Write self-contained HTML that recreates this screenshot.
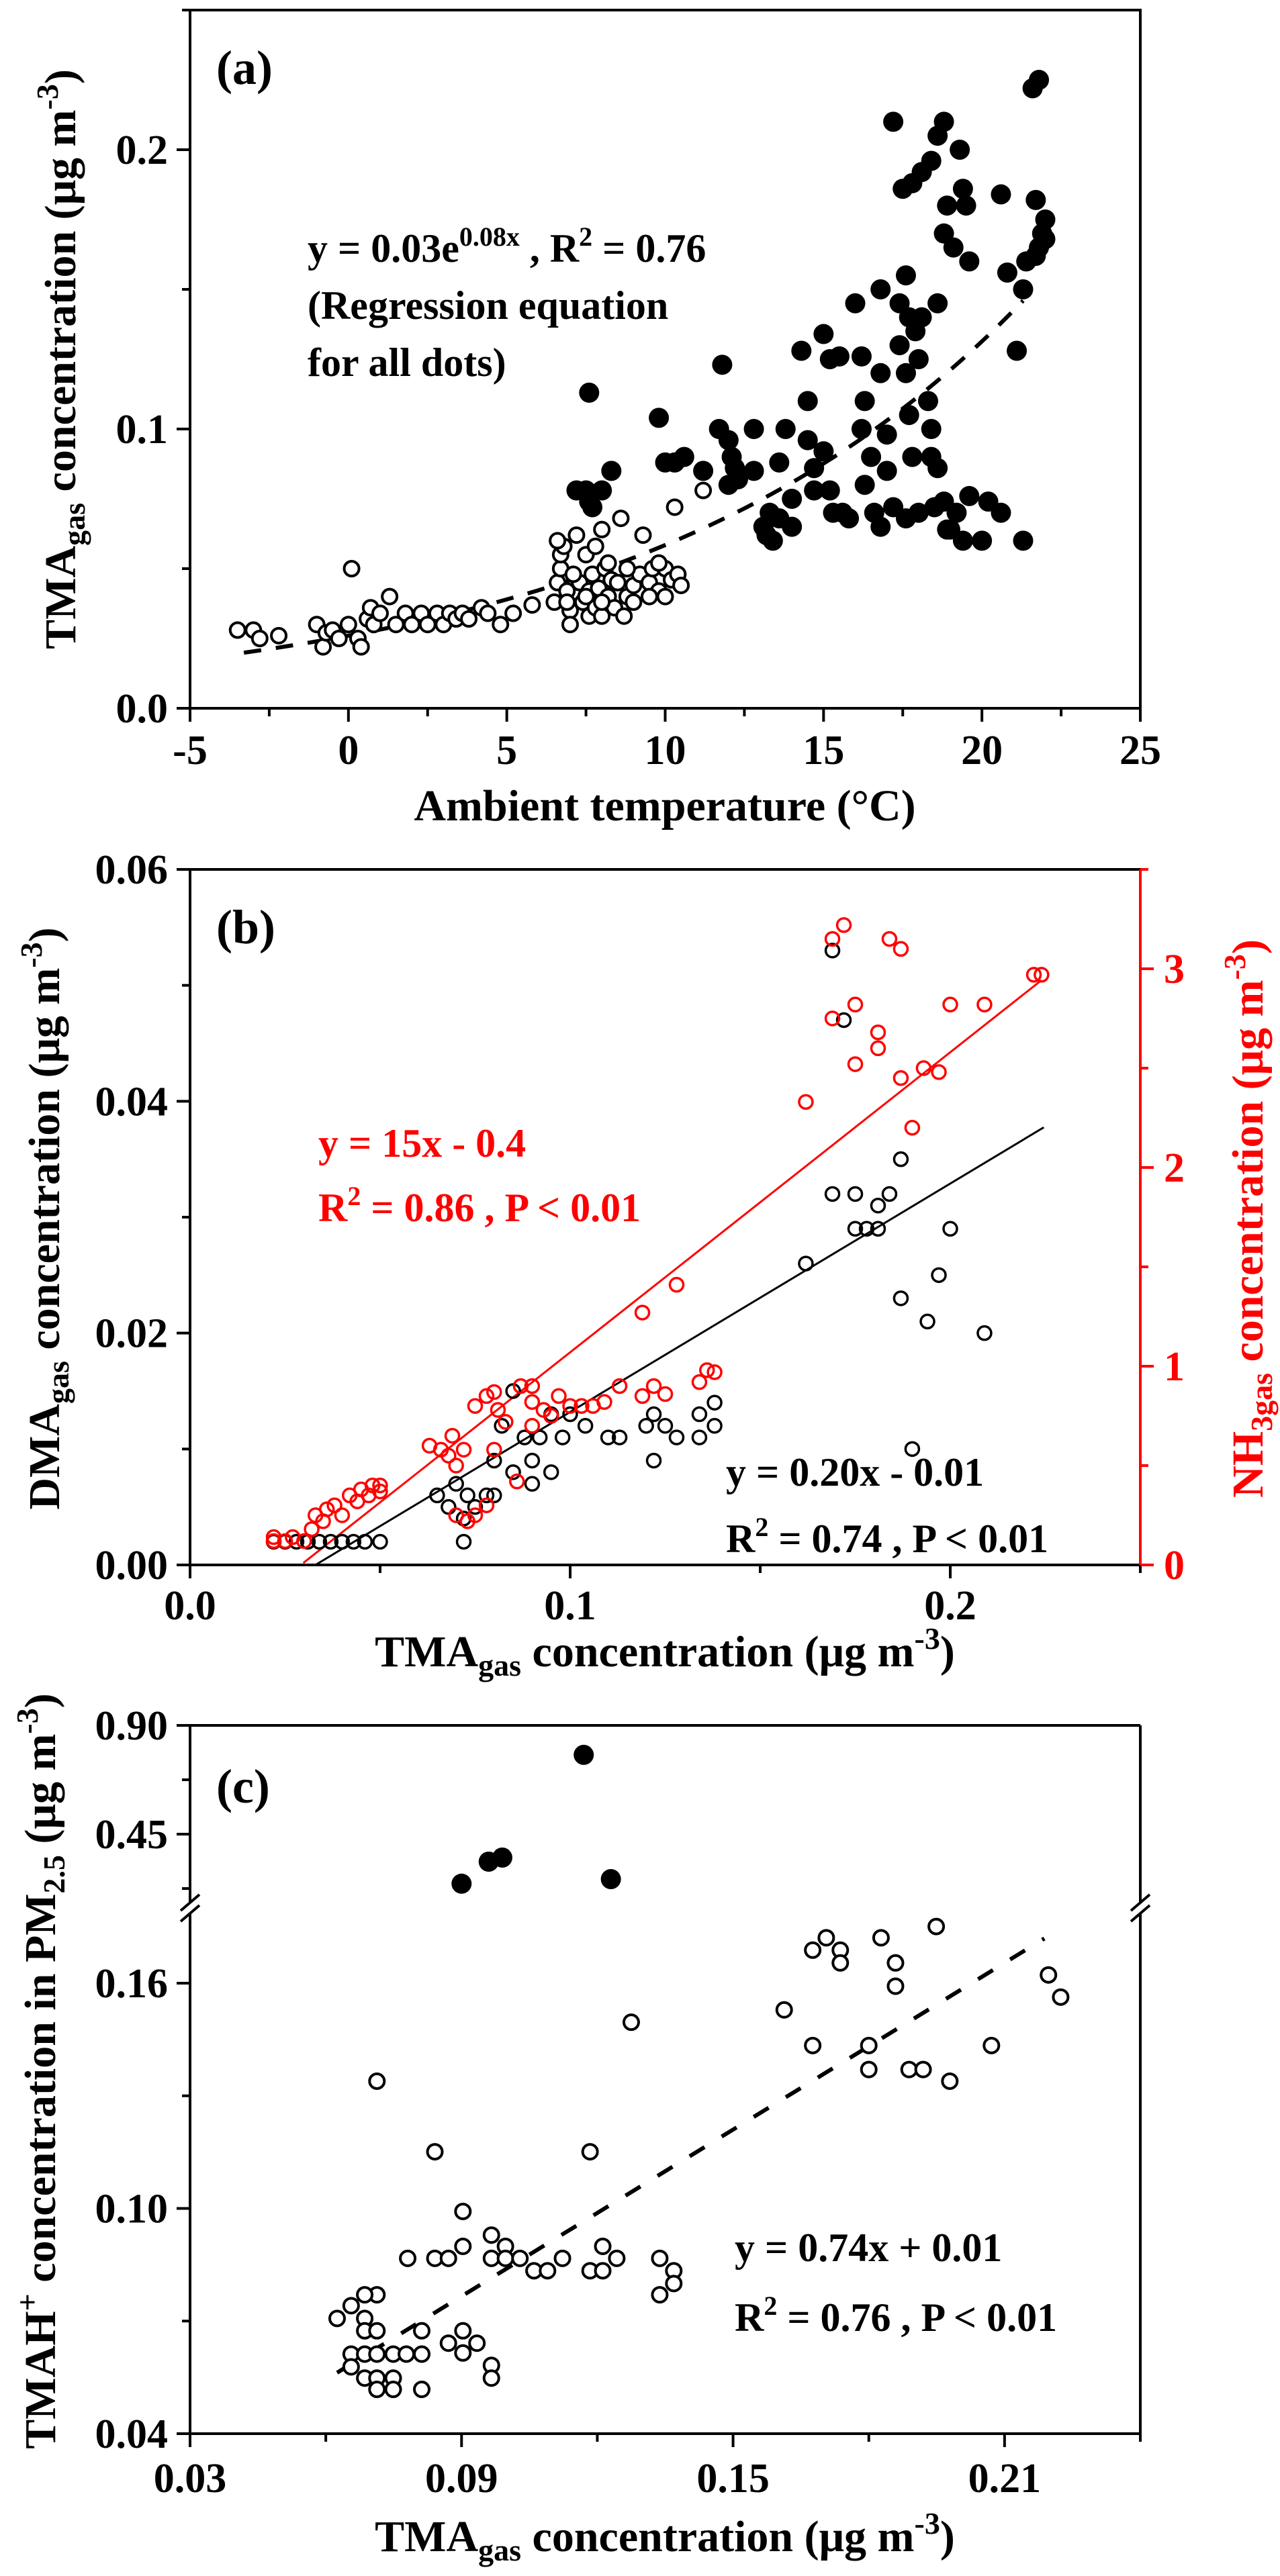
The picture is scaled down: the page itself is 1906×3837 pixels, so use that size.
<!DOCTYPE html>
<html><head><meta charset="utf-8"><style>
html,body{margin:0;padding:0;background:#fff}
svg{display:block;font-family:"Liberation Serif",serif;font-weight:bold}
</style></head><body>
<svg id="fig" width="1906" height="3837" viewBox="0 0 1906 3837" xmlns="http://www.w3.org/2000/svg">
<g id="pa"></g>
<g id="pb"></g>
<g id="pc"></g>
</svg>
<script>
// ---------- Panel (a) data ----------
const aOpenT=[-3.5,-3.0,-2.8,-2.2,-1,-0.8,-0.7,-0.5,-0.3,0,0.1,0.3,0.4,0.6,0.7,0.8,1,1.3,1.5,1.8,2,2.3,2.5,2.8,3,3.2,3.4,3.6,3.8,4.2,4.4,4.8,5.2,5.8,6.5,6.6,6.7,6.7,6.8,6.9,7,7,7.2,7.3,7.4,7.5,7.6,7.6,7.7,7.8,7.8,7.9,8,8,8.1,8.2,8.3,8.4,8.5,8.6,8.7,8.8,9,9.2,9.3,9.5,9.6,9.8,10,10,10.2,10.4,10.5,10.3,11.2,6.6,7.5,8.2,8.8,9.8,7.1,6.9,8.0,9.0,9.5];
const aOpenY=[0.028,0.028,0.025,0.026,0.030,0.022,0.027,0.028,0.025,0.030,0.050,0.025,0.022,0.032,0.036,0.030,0.034,0.040,0.030,0.034,0.030,0.034,0.030,0.034,0.030,0.034,0.032,0.034,0.032,0.036,0.034,0.030,0.034,0.037,0.038,0.045,0.050,0.055,0.058,0.042,0.035,0.030,0.062,0.045,0.038,0.055,0.042,0.033,0.048,0.058,0.036,0.043,0.064,0.033,0.050,0.040,0.046,0.036,0.045,0.068,0.033,0.040,0.044,0.048,0.062,0.045,0.050,0.042,0.050,0.040,0.046,0.048,0.044,0.072,0.078,0.060,0.040,0.052,0.050,0.052,0.048,0.038,0.038,0.038,0.040];
const aFillT=[7.2,7.5,7.6,8.0,8.3,7.7,7.6,9.8,10,10.3,10.6,11.2,11.8,11.7,12,12.1,12.2,12,12.8,12.8,13.1,13.3,13.4,13.8,13.6,14,13.6,14.3,14.5,14.5,14.7,14.7,15,15.2,15.5,15,15.2,15.3,15.6,16,16.2,16.3,16.2,16.5,16.3,16.6,16.8,16.8,17,17,17.2,17.2,17.4,17.4,17.6,17.7,17.6,17.7,17.8,17.9,18,18.1,18.3,18.4,18.4,18.6,18.6,18.0,18.5,17.5,17.8,18.1,18.4,18.6,18.8,18.8,18.9,19.1,19.3,19.4,19.5,19.6,18.8,19,19.2,19.4,19.6,20,20.2,20.6,20.6,20.8,21.1,21.3,21.4,21.3,21.6,21.8,21.7,21.9,22,21.8,21.7,22,14,15.8,16.8,17.6,18.9,12.3,13.2];
const aFillY=[0.078,0.078,0.074,0.078,0.085,0.072,0.113,0.104,0.088,0.088,0.090,0.085,0.123,0.100,0.096,0.090,0.086,0.080,0.100,0.085,0.065,0.070,0.060,0.100,0.088,0.075,0.068,0.128,0.110,0.096,0.086,0.078,0.134,0.125,0.126,0.092,0.078,0.070,0.070,0.145,0.126,0.110,0.100,0.090,0.080,0.070,0.150,0.120,0.098,0.085,0.072,0.210,0.145,0.130,0.155,0.140,0.120,0.105,0.090,0.135,0.125,0.140,0.110,0.100,0.090,0.145,0.086,0.070,0.072,0.186,0.188,0.192,0.196,0.205,0.210,0.170,0.180,0.165,0.200,0.186,0.180,0.160,0.074,0.064,0.070,0.060,0.076,0.060,0.074,0.070,0.184,0.156,0.128,0.150,0.160,0.060,0.222,0.225,0.182,0.170,0.175,0.165,0.162,0.168,0.065,0.068,0.065,0.068,0.064,0.082,0.062];
const aXTicks=[-5,0,5,10,15,20,25];
const aYTicks=[0,0.1,0.2];
const aYTickLabels=["0.0","0.1","0.2"];
const aFit=[0.026,0.081]; // y = a*exp(b*x)

// ---------- Panel (b) data ----------
const bBlackX=[0.022,0.025,0.028,0.031,0.034,0.037,0.040,0.043,0.046,0.050,0.072,0.065,0.068,0.07,0.072,0.073,0.075,0.078,0.08,0.08,0.082,0.085,0.085,0.088,0.09,0.09,0.092,0.095,0.095,0.098,0.1,0.104,0.11,0.113,0.12,0.122,0.122,0.125,0.128,0.134,0.134,0.138,0.138,0.162,0.169,0.169,0.172,0.175,0.175,0.178,0.181,0.181,0.184,0.187,0.187,0.19,0.194,0.197,0.2,0.209];
const bDMA=[0.002,0.002,0.002,0.002,0.002,0.002,0.002,0.002,0.002,0.002,0.002,0.006,0.005,0.007,0.004,0.006,0.005,0.006,0.006,0.009,0.012,0.015,0.008,0.011,0.009,0.007,0.011,0.008,0.013,0.011,0.013,0.012,0.011,0.011,0.012,0.013,0.009,0.012,0.011,0.011,0.013,0.012,0.014,0.026,0.053,0.032,0.047,0.032,0.029,0.029,0.031,0.029,0.032,0.035,0.023,0.010,0.021,0.025,0.029,0.020];
const bRedX=[0.022,0.022,0.025,0.027,0.03,0.032,0.033,0.035,0.036,0.038,0.04,0.042,0.044,0.045,0.047,0.048,0.05,0.05,0.063,0.066,0.068,0.069,0.07,0.072,0.07,0.073,0.075,0.075,0.078,0.078,0.08,0.081,0.083,0.08,0.086,0.087,0.09,0.09,0.09,0.093,0.095,0.097,0.1,0.103,0.106,0.109,0.113,0.119,0.122,0.125,0.119,0.128,0.134,0.136,0.138,0.162,0.169,0.172,0.169,0.175,0.175,0.181,0.181,0.184,0.187,0.187,0.19,0.193,0.197,0.2,0.209,0.222,0.224];
const bNH3=[0.14,0.12,0.12,0.14,0.12,0.18,0.25,0.22,0.28,0.3,0.25,0.35,0.32,0.38,0.35,0.4,0.37,0.4,0.6,0.58,0.55,0.65,0.5,0.58,0.25,0.22,0.25,0.8,0.85,0.3,0.87,0.78,0.72,0.58,0.42,0.9,0.9,0.82,0.7,0.78,0.75,0.85,0.8,0.8,0.8,0.82,0.9,0.85,0.9,0.86,1.27,1.41,0.92,0.98,0.97,2.33,3.15,3.22,2.75,2.82,2.52,2.68,2.6,3.15,3.1,2.45,2.2,2.5,2.48,2.82,2.82,2.97,2.97];
const bXTicks=[0,0.1,0.2];
const bXTickLabels=["0.0","0.1","0.2"];
const bYTicks=[0,0.02,0.04,0.06];
const bYTickLabels=["0.00","0.02","0.04","0.06"];
const bY2Ticks=[0,1,2,3];
const bBlackFit=[0.197,-0.0065];
const bRedFit=[15.1,-0.44];

// ---------- Panel (c) data ----------
const cOpenX=[0.0625,0.0656,0.0686,0.0686,0.0713,0.0686,0.0713,0.0656,0.0686,0.0713,0.0749,0.0778,0.0812,0.0656,0.0686,0.0713,0.0749,0.0713,0.0749,0.0812,0.0812,0.0781,0.0841,0.0871,0.0871,0.0903,0.0903,0.0934,0.0903,0.0903,0.0966,0.0997,0.0966,0.0997,0.1029,0.1060,0.1090,0.1123,0.1184,0.1212,0.1212,0.1243,0.1338,0.1369,0.1369,0.1338,0.0966,0.0966,0.0713,0.0841,0.1184,0.1275,0.1613,0.1676,0.1800,0.1800,0.1889,0.1920,0.1979,0.2071,0.1676,0.1706,0.1737,0.1737,0.1827,0.1859,0.1859,0.1949,0.2197,0.2224];
const cOpenY=[0.0707,0.0741,0.0707,0.0674,0.0770,0.0770,0.0674,0.0612,0.0612,0.0612,0.0612,0.0612,0.0612,0.0578,0.0548,0.0548,0.0548,0.0518,0.0518,0.0518,0.0674,0.0867,0.0867,0.0867,0.0641,0.0674,0.0615,0.0641,0.0899,0.0992,0.0929,0.0899,0.0867,0.0867,0.0867,0.0834,0.0834,0.0867,0.0834,0.0834,0.0899,0.0867,0.0867,0.0834,0.0800,0.0770,0.0582,0.0548,0.1339,0.1151,0.1151,0.1496,0.1529,0.1434,0.1434,0.1370,0.1370,0.1370,0.1339,0.1434,0.1688,0.1721,0.1688,0.1654,0.1721,0.1654,0.1592,0.1751,0.1622,0.1563];
const cFillX=[0.090,0.096,0.099,0.117,0.123];
const cFillY=[0.245,0.336,0.353,0.778,0.264];
const cXTicks=[0.03,0.09,0.15,0.21];
const cXTickLabels=["0.03","0.09","0.15","0.21"];
const cYTicksLow=[0.04,0.10,0.16];
const cYTickLabelsLow=["0.04","0.10","0.16"];
const cYTicksHigh=[0.45,0.90];
const cFit=[0.74,0.01];

const NS="http://www.w3.org/2000/svg";
function mk(parent,tag,attrs,text){const e=document.createElementNS(NS,tag);for(const k in attrs)e.setAttribute(k,attrs[k]);if(text!==undefined)e.textContent=text;parent.appendChild(e);return e;}
function lin(d0,d1,p0,p1){return v=>p0+(v-d0)/(d1-d0)*(p1-p0);}
const L=283,R=1698;

// ===== Panel A =====
(function(){
const g=document.getElementById('pa');
const T=15,B=1055;
const x=lin(-5,25,L,R), y=lin(0,0.25,B,T);
// fit dashed
let pts=[];for(let t=-3.3;t<=21.4;t+=0.2)pts.push(x(t)+','+y(aFit[0]*Math.exp(aFit[1]*t)));
let fl=mk(g,'polyline',{points:pts.join(' '),fill:'none',stroke:'#000','stroke-width':6,'stroke-dasharray':'26,22'});

for(let i=0;i<aOpenT.length;i++){const c=mk(g,'circle',{cx:x(aOpenT[i]),cy:y(aOpenY[i]),r:11,fill:'#fff',stroke:'#000','stroke-width':4});
}
for(let i=0;i<aFillT.length;i++){const c=mk(g,'circle',{cx:x(aFillT[i]),cy:y(aFillY[i]),r:15,fill:'#000'});
}
const fr=mk(g,'rect',{x:L,y:T,width:R-L,height:B-T,fill:'none',stroke:'#000','stroke-width':4});

aXTicks.forEach(t=>{mk(g,'line',{x1:x(t),x2:x(t),y1:B,y2:B+20,stroke:'#000','stroke-width':4});
const l=mk(g,'text',{x:x(t),y:1138,'font-size':62,'text-anchor':'middle'},String(t));});
for(let t=-2.5;t<25;t+=5)mk(g,'line',{x1:x(t),x2:x(t),y1:B,y2:B+12,stroke:'#000','stroke-width':4});
aYTicks.forEach((t,i)=>{mk(g,'line',{x1:L,x2:L-20,y1:y(t),y2:y(t),stroke:'#000','stroke-width':4});
const l=mk(g,'text',{x:250,y:y(t)+21,'font-size':62,'text-anchor':'end'},aYTickLabels[i]);});
[0.05,0.15,0.25].forEach(t=>mk(g,'line',{x1:L,x2:L-12,y1:y(t),y2:y(t),stroke:'#000','stroke-width':4}));
})();

// ===== Panel B =====
(function(){
const g=document.getElementById('pb');
const T=1295,B=2331;
const x=lin(0,0.25,L,R), y=lin(0,0.06,B,T), y2=lin(0,3.5,B,T);
const l1=mk(g,'line',{x1:x(0.033),y1:y(bBlackFit[0]*0.033+bBlackFit[1]),x2:x(0.2246),y2:y(bBlackFit[0]*0.2246+bBlackFit[1]),stroke:'#000','stroke-width':3});

const l2=mk(g,'line',{x1:x(0.0298),y1:y2(bRedFit[0]*0.0298+bRedFit[1]),x2:x(0.224),y2:y2(bRedFit[0]*0.224+bRedFit[1]),stroke:'#f00','stroke-width':3});

for(let i=0;i<bBlackX.length;i++){const c=mk(g,'circle',{cx:x(bBlackX[i]),cy:y(bDMA[i]),r:10,fill:'none',stroke:'#000','stroke-width':3.5});
}
for(let i=0;i<bRedX.length;i++){const c=mk(g,'circle',{cx:x(bRedX[i]),cy:y2(bNH3[i]),r:10,fill:'none',stroke:'#f00','stroke-width':3.5});
}
mk(g,'line',{x1:L,y1:T,x2:R,y2:T,stroke:'#000','stroke-width':4});
mk(g,'line',{x1:L,y1:T,x2:L,y2:B,stroke:'#000','stroke-width':4});
mk(g,'line',{x1:L,y1:B,x2:R,y2:B,stroke:'#000','stroke-width':4});
const ra=mk(g,'line',{x1:R,y1:T,x2:R,y2:B,stroke:'#f00','stroke-width':4});

bXTicks.forEach((t,i)=>{mk(g,'line',{x1:x(t),x2:x(t),y1:B,y2:B+20,stroke:'#000','stroke-width':4});
const l=mk(g,'text',{x:x(t),y:2412,'font-size':62,'text-anchor':'middle'},bXTickLabels[i]);});
[0.05,0.15,0.25].forEach(t=>mk(g,'line',{x1:x(t),x2:x(t),y1:B,y2:B+12,stroke:'#000','stroke-width':4}));
bYTicks.forEach((t,i)=>{mk(g,'line',{x1:L,x2:L-20,y1:y(t),y2:y(t),stroke:'#000','stroke-width':4});
const l=mk(g,'text',{x:250,y:y(t)+21,'font-size':62,'text-anchor':'end'},bYTickLabels[i]);});
[0.01,0.03,0.05].forEach(t=>mk(g,'line',{x1:L,x2:L-12,y1:y(t),y2:y(t),stroke:'#000','stroke-width':4}));
bY2Ticks.forEach(t=>{mk(g,'line',{x1:R,x2:R+20,y1:y2(t),y2:y2(t),stroke:'#f00','stroke-width':4});
const l=mk(g,'text',{x:1733,y:y2(t)+21,'font-size':62,fill:'#f00'},String(t));});
[0.5,1.5,2.5,3.5].forEach(t=>mk(g,'line',{x1:R,x2:R+12,y1:y2(t),y2:y2(t),stroke:'#f00','stroke-width':4}));
})();

// ===== Panel C =====
(function(){
const g=document.getElementById('pc');
const T=2570,B=3625,BR=2842;
const x=lin(0.03,0.24,L,R), yl=lin(0.04,0.16,B,2954), yh=lin(0.45,0.90,2732,2570);
const fl=mk(g,'line',{x1:x(0.0625),y1:yl(cFit[0]*0.0625+cFit[1]),x2:x(0.2188),y2:yl(cFit[0]*0.2188+cFit[1]),stroke:'#000','stroke-width':6,'stroke-dasharray':'26,30'});

for(let i=0;i<cOpenX.length;i++){const c=mk(g,'circle',{cx:x(cOpenX[i]),cy:yl(cOpenY[i]),r:11,fill:'#fff',stroke:'#000','stroke-width':4});
}
for(let i=0;i<cFillX.length;i++){const c=mk(g,'circle',{cx:x(cFillX[i]),cy:yh(cFillY[i]),r:15,fill:'#000'});
}
mk(g,'line',{x1:L,y1:T,x2:R,y2:T,stroke:'#000','stroke-width':4});
mk(g,'line',{x1:L,y1:B,x2:R,y2:B,stroke:'#000','stroke-width':4});
[L,R].forEach(ax=>{
mk(g,'line',{x1:ax,y1:T,x2:ax,y2:BR-8,stroke:'#000','stroke-width':4});
mk(g,'line',{x1:ax,y1:BR+8,x2:ax,y2:B,stroke:'#000','stroke-width':4});
mk(g,'line',{x1:ax-14,y1:BR+4,x2:ax+14,y2:BR-20,stroke:'#000','stroke-width':4});
mk(g,'line',{x1:ax-14,y1:BR+20,x2:ax+14,y2:BR-4,stroke:'#000','stroke-width':4});});
cXTicks.forEach((t,i)=>{mk(g,'line',{x1:x(t),x2:x(t),y1:B,y2:B+20,stroke:'#000','stroke-width':4});
const l=mk(g,'text',{x:x(t),y:3712,'font-size':62,'text-anchor':'middle'},cXTickLabels[i]);});
[0.06,0.12,0.18,0.24].forEach(t=>mk(g,'line',{x1:x(t),x2:x(t),y1:B,y2:B+12,stroke:'#000','stroke-width':4}));
cYTicksLow.forEach((t,i)=>{mk(g,'line',{x1:L,x2:L-20,y1:yl(t),y2:yl(t),stroke:'#000','stroke-width':4});
const l=mk(g,'text',{x:250,y:yl(t)+21,'font-size':62,'text-anchor':'end'},cYTickLabelsLow[i]);});
[0.07,0.13].forEach(t=>mk(g,'line',{x1:L,x2:L-12,y1:yl(t),y2:yl(t),stroke:'#000','stroke-width':4}));
cYTicksHigh.forEach(t=>{mk(g,'line',{x1:L,x2:L-20,y1:yh(t),y2:yh(t),stroke:'#000','stroke-width':4});
const l=mk(g,'text',{x:250,y:yh(t)+21,'font-size':62,'text-anchor':'end'},t.toFixed(2));});
[0.225,0.675].forEach(t=>mk(g,'line',{x1:L,x2:L-12,y1:yh(t),y2:yh(t),stroke:'#000','stroke-width':4}));
})();
</script>
<svg width="1906" height="3837" viewBox="0 0 1906 3837" style="position:absolute;left:0;top:0;font-family:'Liberation Serif',serif;font-weight:bold">
<!-- Panel a texts -->
<text x="322" y="125" font-size="72">(a)</text>
<text x="458" y="390" font-size="60">y = 0.03e<tspan dy="-24" font-size="40">0.08x</tspan><tspan dy="24"> , R</tspan><tspan dy="-24" font-size="40">2</tspan><tspan dy="24"> = 0.76</tspan></text>
<text x="458" y="475" font-size="60">(Regression equation</text>
<text x="458" y="560" font-size="60">for all dots)</text>
<text x="990" y="1222" font-size="66" text-anchor="middle">Ambient temperature (°C)</text>
<text transform="translate(112,535) rotate(-90)" font-size="66" text-anchor="middle">TMA<tspan dy="14" font-size="46">gas</tspan><tspan dy="-14"> concentration (μg m</tspan><tspan dy="-26" font-size="46">-3</tspan><tspan dy="26">)</tspan></text>
<!-- Panel b texts -->
<text x="322" y="1405" font-size="72">(b)</text>
<text x="474" y="1723" font-size="60" fill="#f00">y = 15x - 0.4</text>
<text x="474" y="1819" font-size="60" fill="#f00">R<tspan dy="-24" font-size="40">2</tspan><tspan dy="24"> = 0.86 , P &lt; 0.01</tspan></text>
<text x="1081" y="2213" font-size="60">y = 0.20x - 0.01</text>
<text x="1081" y="2312" font-size="60">R<tspan dy="-24" font-size="40">2</tspan><tspan dy="24"> = 0.74 , P &lt; 0.01</tspan></text>
<text x="990" y="2482" font-size="66" text-anchor="middle">TMA<tspan dy="14" font-size="46">gas</tspan><tspan dy="-14"> concentration (μg m</tspan><tspan dy="-26" font-size="46">-3</tspan><tspan dy="26">)</tspan></text>
<text transform="translate(88,1815) rotate(-90)" font-size="66" text-anchor="middle">DMA<tspan dy="14" font-size="46">gas</tspan><tspan dy="-14"> concentration (μg m</tspan><tspan dy="-26" font-size="46">-3</tspan><tspan dy="26">)</tspan></text>
<text transform="translate(1880,1815) rotate(-90)" font-size="66" text-anchor="middle" fill="#f00">NH<tspan dy="14" font-size="46">3gas</tspan><tspan dy="-14"> concentration (μg m</tspan><tspan dy="-26" font-size="46">-3</tspan><tspan dy="26">)</tspan></text>
<!-- Panel c texts -->
<text x="322" y="2685" font-size="72">(c)</text>
<text x="1094" y="3368" font-size="60">y = 0.74x + 0.01</text>
<text x="1094" y="3472" font-size="60">R<tspan dy="-24" font-size="40">2</tspan><tspan dy="24"> = 0.76 , P &lt; 0.01</tspan></text>
<text x="990" y="3800" font-size="66" text-anchor="middle">TMA<tspan dy="14" font-size="46">gas</tspan><tspan dy="-14"> concentration (μg m</tspan><tspan dy="-26" font-size="46">-3</tspan><tspan dy="26">)</tspan></text>
<text transform="translate(82,3085) rotate(-90)" font-size="66" text-anchor="middle">TMAH<tspan dy="-26" font-size="46">+</tspan><tspan dy="26"> concentration in PM</tspan><tspan dy="14" font-size="46">2.5</tspan><tspan dy="-14"> (μg m</tspan><tspan dy="-26" font-size="46">-3</tspan><tspan dy="26">)</tspan></text>
</svg>
</body></html>
